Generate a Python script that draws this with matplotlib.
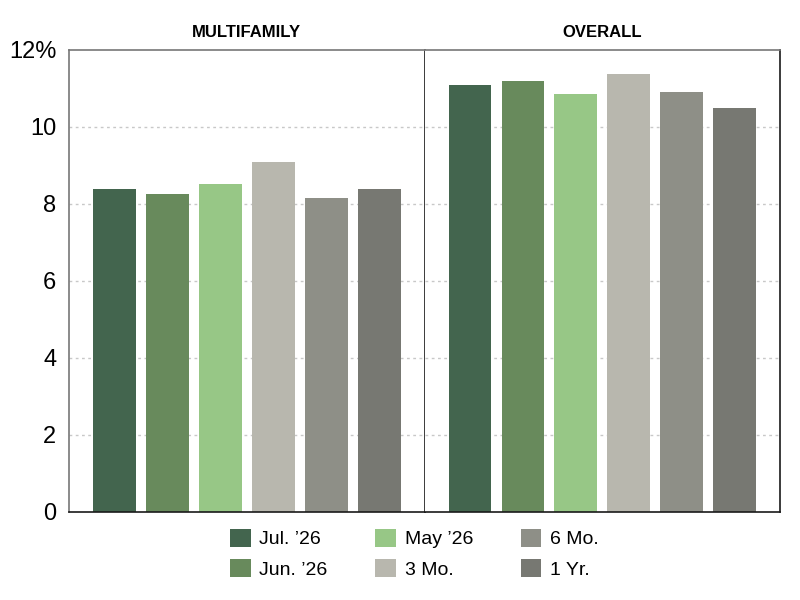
import matplotlib.pyplot as plt
import numpy as np
from matplotlib.patches import Patch

plt.rcParams['font.family'] = ['Liberation Sans', 'DejaVu Sans']

series = ["Jul. \u201926", "Jun. \u201926", "May \u201926", "3 Mo.", "6 Mo.", "1 Yr."]
colors = ["#43654e", "#688a5c", "#97c786", "#b8b7ae", "#8e8f87", "#777872"]
panels = ["MULTIFAMILY", "OVERALL"]
multifamily = [8.39, 8.25, 8.52, 9.08, 8.15, 8.38]
overall = [11.08, 11.19, 10.85, 11.37, 10.90, 10.48]
yticks = [0, 2, 4, 6, 8, 10, 12]
ytick_labels = ["0", "2", "4", "6", "8", "10", "12%"]

fig = plt.figure(figsize=(8, 6), dpi=100)
ax1 = fig.add_axes([0.086, 0.147, 0.445, 0.77])
ax2 = fig.add_axes([0.531, 0.147, 0.444, 0.77])

x = np.arange(len(series))
for ax, title, vals in [(ax1, panels[0], multifamily), (ax2, panels[1], overall)]:
  ax.bar(x, vals, width=0.81, color=colors, zorder=2)
  ax.set_xlim(-0.855, 5.855)
  ax.set_ylim(0, 12)
  ax.set_xticks([])
  ax.set_yticks(yticks)
  for g in yticks[1:-1]:
    ax.axhline(g, color="#c8c8c8", lw=1, ls=(0, (2, 2.5)), zorder=1)
  ax.set_title(title, fontsize=12, fontweight="bold", pad=9)
  ax.tick_params(axis="y", length=0, pad=9)
  for s in ["left", "top"]:
    ax.spines[s].set_color("#777777")
  for s in ["right", "bottom"]:
    ax.spines[s].set_color("#1a1a1a")
  for s in ax.spines.values():
    s.set_linewidth(1.2)

ax1.set_yticklabels(ytick_labels, fontsize=17)
ax2.set_yticklabels([])
ax2.spines["left"].set_visible(False)

handles = [Patch(facecolor=c, label=l) for c, l in zip(colors, series)]
fig.legend(handles=handles, ncol=3, loc="center", bbox_to_anchor=(0.518, 0.077),
           frameon=False, fontsize=14, handlelength=1.05, handleheight=1.05,
           columnspacing=2.45, labelspacing=0.55, handletextpad=0.45)

fig.savefig("out.png", dpi=100)
